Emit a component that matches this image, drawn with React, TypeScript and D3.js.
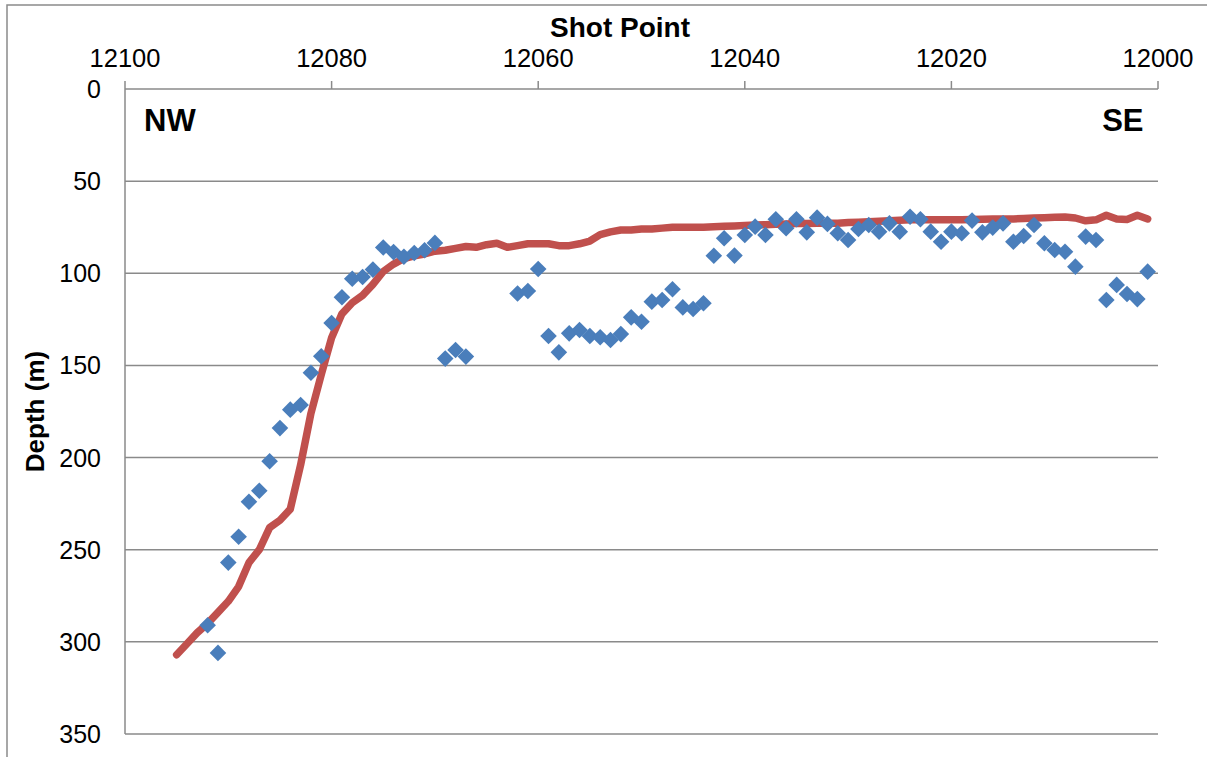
import React from "react";
import * as d3 from "d3";

const xTicks = [12100, 12080, 12060, 12040, 12020, 12000];
const yTicks = [0, 50, 100, 150, 200, 250, 300, 350];

const markerShotPoints = [
  12092, 12091, 12090, 12089, 12088, 12087, 12086, 12085, 12084, 12083,
  12082, 12081, 12080, 12079, 12078, 12077, 12076, 12075, 12074, 12073,
  12072, 12071, 12070, 12069, 12068, 12067,
  12062, 12061, 12060, 12059, 12058, 12057, 12056, 12055, 12054, 12053,
  12052, 12051, 12050, 12049, 12048, 12047, 12046, 12045, 12044, 12043,
  12042, 12041, 12040, 12039, 12038, 12037, 12036, 12035, 12034, 12033,
  12032, 12031, 12030, 12029, 12028, 12027, 12026, 12025, 12024, 12023,
  12022, 12021, 12020, 12019, 12018, 12017, 12016, 12015, 12014, 12013,
  12012, 12011, 12010, 12009, 12008, 12007, 12006, 12005, 12004, 12003,
  12002, 12001,
];
const markerDepths = [
  291, 306, 257, 243, 224, 218, 202, 184, 174, 171.5,
  154, 145, 127, 113, 103, 102, 98, 86, 88.5, 91,
  89, 87.5, 83.5, 146.3, 141.6, 145.2,
  111, 109.6, 97.7, 134, 142.9, 132.6, 130.8, 134, 134.7, 136.2,
  133, 123.9, 126.3, 115.4, 114.5, 108.7, 118.5, 119.4, 116.3, 90.5,
  81, 90.4, 79.2, 74.7, 79.2, 70.7, 75.6, 70.7, 77.8, 69.8,
  73.2, 78.3, 81.9, 76, 73.8, 77.4, 72.9, 77.4, 69.3, 70.7,
  77.4, 82.9, 77.4, 78.3, 71.4, 77.8, 75.2, 72.9, 82.9, 79.8,
  73.8, 83.7, 87.4, 88.3, 96.4, 80.1, 81.9, 114.5, 106.3, 111.2,
  114, 99.1,
];

const lineShotPoints = d3.range(12095, 12000, -1);
const lineDepths = [
  307, 301, 295, 290, 284, 278, 270, 257, 250, 238,
  234, 228, 204, 176, 155, 135, 122, 116, 112, 106,
  99, 95, 92, 90.5, 89.5, 88, 87.5, 86.5, 85.5, 85.9,
  84.5, 83.7, 85.9, 85, 84, 84, 84, 85, 85, 84,
  82.5, 79, 77.5, 76.5, 76.5, 76, 76, 75.5, 75, 75,
  75, 75, 74.7, 74.5, 74.3, 74, 73.8, 73.6, 73.4, 73.2,
  73, 73, 72.9, 72.9, 72.8, 72.5, 72.3, 72, 71.8, 71.5,
  71.2, 71, 71, 71, 71, 71, 71, 70.8, 70.7, 70.6,
  70.5, 70.5, 70.3, 70, 69.8, 69.6, 69.5, 70, 71.5, 71,
  68.5, 70.5, 70.8, 68.5, 70.5,
];

const W = 1207;
const H = 757;
const plot = { left: 125, right: 1158, top: 89, bottom: 734 };
const FONT = "Liberation Sans, Arial, sans-serif";
const GRID = "#8a8a8a";

export default function App() {
  const x = d3.scaleLinear().domain([12100, 12000]).range([plot.left, plot.right]);
  const y = d3.scaleLinear().domain([0, 350]).range([plot.top, plot.bottom]);

  const linePath = d3
    .line<number>()
    .x((_, i) => x(lineShotPoints[i]))
    .y((d) => y(d))(lineDepths) as string;

  const r = 8.3;
  const diamond = `M0,${-r}L${r},0L0,${r}L${-r},0Z`;

  return (
    <svg
      width={W}
      height={H}
      style={{ position: "absolute", left: 0, top: 0, background: "#fff" }}
      fontFamily={FONT}
    >
      <rect x={7} y={5} width={W + 10} height={H + 10} fill="#fff" stroke={GRID} strokeWidth={1.5} />

      {yTicks.map((t) => (
        <line key={"g" + t} x1={plot.left} x2={plot.right} y1={y(t)} y2={y(t)} stroke={GRID} strokeWidth={1.5} />
      ))}
      <line x1={plot.left} x2={plot.left} y1={plot.top} y2={plot.bottom} stroke={GRID} strokeWidth={1.5} />
      {xTicks.map((t) => (
        <line key={"xt" + t} x1={x(t)} x2={x(t)} y1={plot.top - 8} y2={plot.top} stroke={GRID} strokeWidth={1.5} />
      ))}
      {yTicks.map((t) => (
        <text key={"yl" + t} x={101} y={y(t)} dy="0.36em" textAnchor="end" fontSize={25} fill="#000">
          {t}
        </text>
      ))}
      {xTicks.map((t) => (
        <text key={"xl" + t} x={x(t)} y={66.5} textAnchor="middle" fontSize={25.5} fill="#000">
          {t}
        </text>
      ))}
      <text x={620} y={36.5} textAnchor="middle" fontSize={28} fontWeight="bold" fill="#000">
        Shot Point
      </text>
      <text
        transform={`translate(44,${(plot.top + plot.bottom) / 2}) rotate(-90)`}
        textAnchor="middle"
        fontSize={26}
        fontWeight="bold"
        fill="#000"
      >
        Depth (m)
      </text>
      <text x={144} y={130.5} fontSize={31} fontWeight="bold" fill="#000">
        NW
      </text>
      <text x={1143.5} y={130.5} textAnchor="end" fontSize={31} fontWeight="bold" fill="#000">
        SE
      </text>

      <path d={linePath} fill="none" stroke="#c0504d" strokeWidth={7.5} strokeLinecap="round" strokeLinejoin="round" />

      {markerDepths.map((d, i) => (
        <path
          key={"m" + i}
          d={diamond}
          transform={`translate(${x(markerShotPoints[i])},${y(d)})`}
          fill="#4a7ebb"
        />
      ))}
    </svg>
  );
}
